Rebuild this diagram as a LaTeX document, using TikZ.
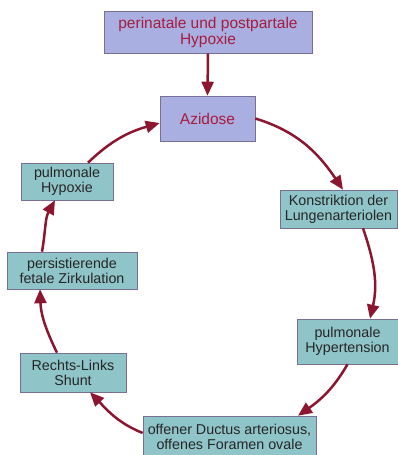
\documentclass[tikz,border=0pt]{standalone}
\usepackage{fontspec}
\setmainfont{Liberation Sans}
\usetikzlibrary{arrows.meta}
\definecolor{purplebox}{RGB}{170,175,226}
\definecolor{tealbox}{RGB}{143,196,200}
\definecolor{redtext}{RGB}{165,28,62}
\definecolor{arrowred}{RGB}{140,22,48}
\definecolor{boxedge}{RGB}{120,110,150}
\begin{document}
\begin{tikzpicture}[x=1pt,y=1pt,
  purplenode/.style={draw=boxedge, line width=0.6pt, fill=purplebox, text=redtext, align=center,
    inner sep=0pt, font=\fontsize{15.5}{16}\selectfont},
  tealnode/.style={draw=boxedge, line width=0.6pt, fill=tealbox, text=black!85, align=center,
    inner sep=0pt, font=\fontsize{14.3}{15}\selectfont},
  flow/.style={draw=arrowred, line width=2.5pt, -{Triangle[length=14pt,width=12pt]}, looseness=1}]
\useasboundingbox (0,0) rectangle (398,455);
\node[purplenode, minimum width=208, minimum height=42] (top) at (208,423) {perinatale und postpartale\\Hypoxie};
\node[purplenode, minimum width=95, minimum height=45] (azi) at (207.5,336.5) {Azidose};
\node[tealnode, minimum width=117, minimum height=38] (kon) at (338.5,246) {Konstriktion der\\Lungenarteriolen};
\node[tealnode, minimum width=101, minimum height=45] (ht) at (347.5,113.5) {pulmonale\\Hypertension};
\node[tealnode, minimum width=173, minimum height=42] (off) at (229.5,18) {offener Ductus arteriosus,\\offenes Foramen ovale};
\node[tealnode, minimum width=106, minimum height=39] (rl) at (73,82.5) {Rechts-Links\\Shunt};
\node[tealnode, minimum width=130, minimum height=37] (pfz) at (72,184.5) {persistierende\\fetale Zirkulation};
\node[tealnode, minimum width=92, minimum height=37] (hyp) at (67,273.5) {pulmonale\\Hypoxie};

\draw[flow] (top.south) -- (azi.north);
\draw[flow] (azi.east) to[out=-17,in=124] ([xshift=4.5pt]kon.north);
\draw[flow] ([xshift=24.5pt]kon.south) to[out=-71,in=77] ([xshift=22.5pt]ht.north);
\draw[flow] (ht.south) to[out=-120,in=35] ([xshift=68.5pt]off.north);
\draw[flow] ([yshift=4pt]off.west) to[out=158,in=-46] ([xshift=17pt]rl.south);
\draw[flow] ([xshift=-16pt]rl.north) to[out=116,in=-88] ([xshift=-32pt]pfz.south);
\draw[flow] ([xshift=-30pt]pfz.north) to[out=80,in=-119] ([xshift=-12pt]hyp.south);
\draw[flow] ([xshift=21pt]hyp.north) to[out=44,in=-164] ([yshift=-4.5pt]azi.west);
\end{tikzpicture}
\end{document}
